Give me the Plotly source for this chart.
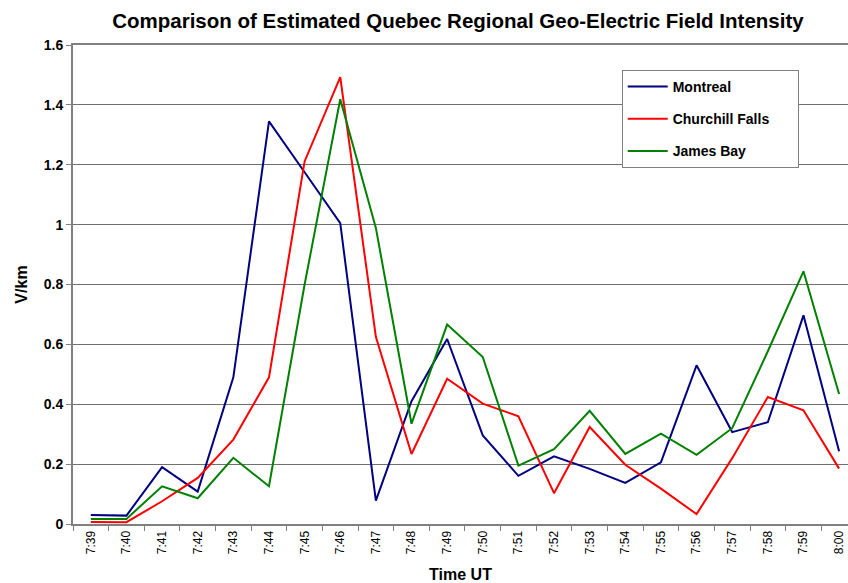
import plotly.graph_objects as go

times = ["7:39", "7:40", "7:41", "7:42", "7:43", "7:44", "7:45", "7:46", "7:47", "7:48", "7:49",
         "7:50", "7:51", "7:52", "7:53", "7:54", "7:55", "7:56", "7:57", "7:58", "7:59", "8:00"]

montreal = [0.030, 0.028, 0.190, 0.108, 0.490, 1.345, 1.175, 1.005, 0.078, 0.410, 0.618,
            0.296, 0.161, 0.226, 0.184, 0.137, 0.206, 0.530, 0.307, 0.340, 0.697, 0.243]
churchill_falls = [0.007, 0.006, 0.076, 0.154, 0.282, 0.490, 1.211, 1.493, 0.625, 0.234, 0.485,
                   0.402, 0.360, 0.103, 0.324, 0.198, 0.118, 0.033, 0.220, 0.424, 0.380, 0.185]
james_bay = [0.017, 0.017, 0.126, 0.086, 0.221, 0.126, 0.800, 1.419, 0.989, 0.335, 0.666,
             0.558, 0.195, 0.250, 0.378, 0.234, 0.302, 0.231, 0.320, 0.577, 0.844, 0.434]

y_ticks = [0, 0.2, 0.4, 0.6, 0.8, 1, 1.2, 1.4, 1.6]
y_tick_text = ["<b>0</b>", "<b>0.2</b>", "<b>0.4</b>", "<b>0.6</b>", "<b>0.8</b>",
               "<b>1</b>", "<b>1.2</b>", "<b>1.4</b>", "<b>1.6</b>"]

series = [
    ("Montreal", montreal, "#000080"),
    ("Churchill Falls", churchill_falls, "#FF0000"),
    ("James Bay", james_bay, "#008000"),
]

# non-breaking padding widens the legend box to the right of the longest label
pad = "\u00a0" * 6

fig = go.Figure()
for name, vals, color in series:
    fig.add_trace(go.Scatter(
        x=times, y=vals, mode="lines", name=f"<b>{name}</b>{pad}", legendgroup=name,
        line=dict(color=color, width=2),
    ))

font_family = "Liberation Sans, Arial, sans-serif"

fig.update_layout(
    width=848, height=583,
    margin=dict(l=73, r=0, t=45, b=59),
    paper_bgcolor="white", plot_bgcolor="white",
    font=dict(family=font_family, color="black"),
    title=dict(
        text="<b>Comparison of Estimated Quebec Regional Geo-Electric Field Intensity</b>",
        x=0.54, xanchor="center", y=0.965, yanchor="middle",
        font=dict(size=20.5, family=font_family),
    ),
    showlegend=True,
    legend=dict(
        x=0.708, y=0.948, xanchor="left", yanchor="top",
        bgcolor="white", bordercolor="#808080", borderwidth=1,
        font=dict(size=14, family=font_family),
        traceorder="grouped", tracegroupgap=11,
        itemwidth=40,
    ),
    xaxis=dict(
        type="category", categoryorder="array", categoryarray=times,
        range=[-0.5, 21.25],
        tickangle=-90, tickfont=dict(size=12),
        ticks="outside", tickson="boundaries", ticklen=5, tickcolor="#808080",
        showgrid=False,
        showline=True, linecolor="#808080", linewidth=2, mirror=True,
        title=dict(text="<b>Time UT</b>", font=dict(size=16), standoff=16),
    ),
    yaxis=dict(
        range=[0, 1.6], tickvals=y_ticks, ticktext=y_tick_text,
        tickfont=dict(size=14),
        ticks="outside", ticklen=5, tickcolor="#808080",
        showgrid=True, gridcolor="#707070", gridwidth=1,
        zeroline=False,
        showline=True, linecolor="#808080", linewidth=2,
        title=dict(text="<b>V/km</b>", font=dict(size=16), standoff=12),
    ),
)

fig.write_html("out.html")
